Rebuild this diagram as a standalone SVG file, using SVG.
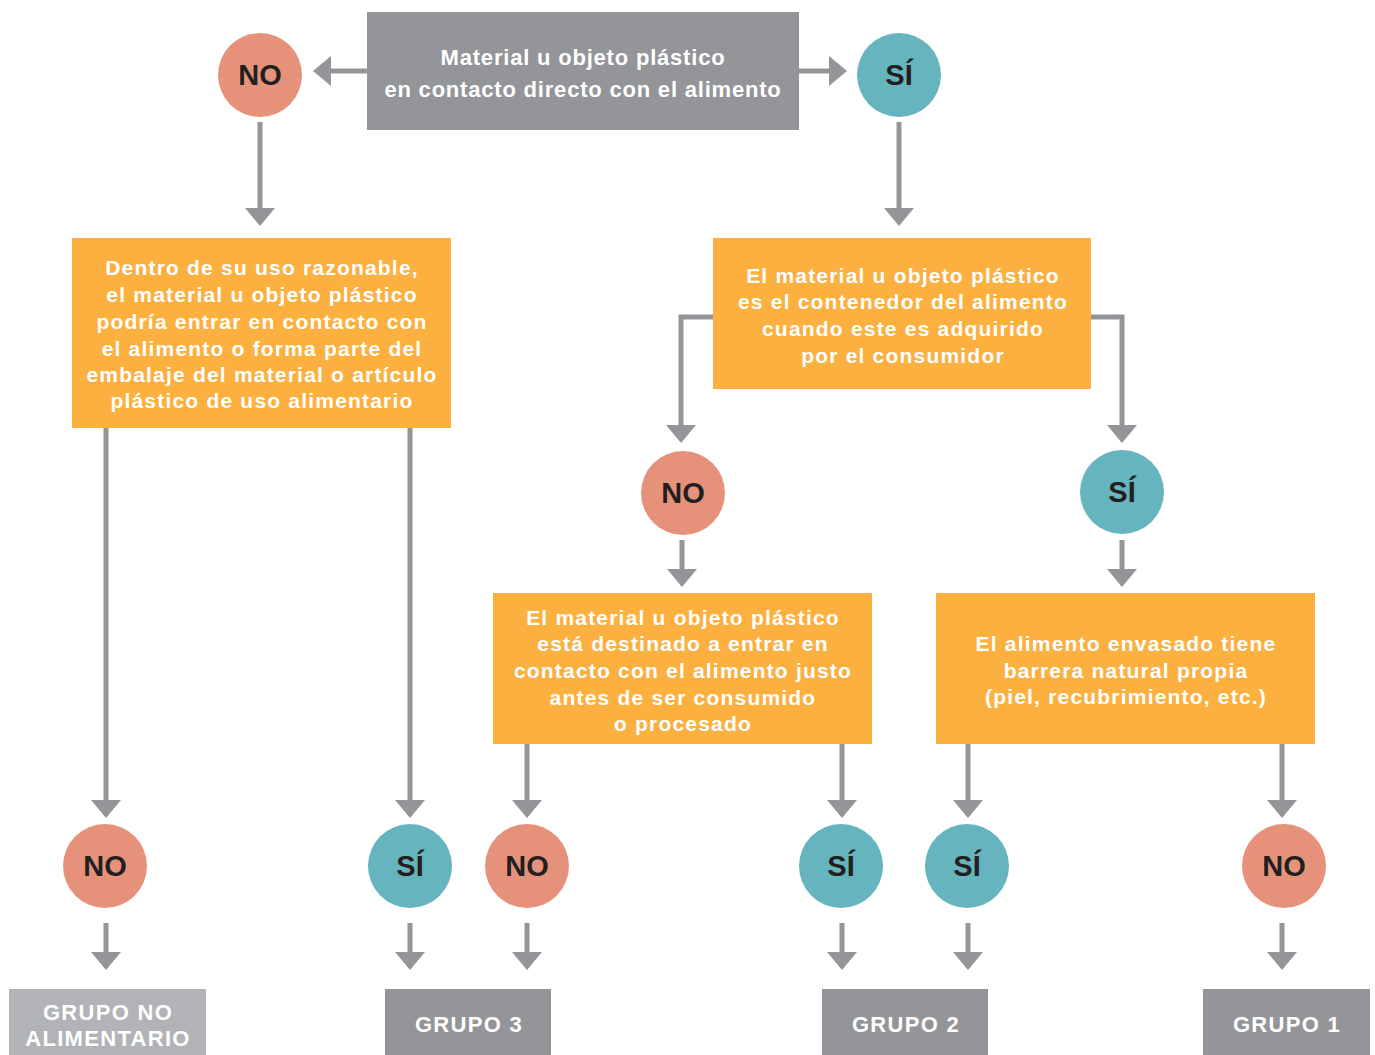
<svg xmlns="http://www.w3.org/2000/svg" width="1375" height="1055" viewBox="0 0 1375 1055">
<defs>
<marker id="ah" markerUnits="userSpaceOnUse" markerWidth="20" markerHeight="32" viewBox="0 -16 20 32" refX="1" refY="0" orient="auto">
<path d="M0,-15 L18,0 L0,15 z" fill="#939598"/>
</marker>
<style>
.c{stroke:#939598;stroke-width:5;fill:none;marker-end:url(#ah)}
.q{fill:#939598}
.ql{fill:#b1b3b6}
.o{fill:#fbb040}
.no{fill:#e6927a}
.si{fill:#66b4be}
.t{font-family:"Liberation Sans",Arial,sans-serif;font-weight:bold;fill:#ffffff;text-anchor:middle}
.tt{font-size:22px;letter-spacing:0.8px}
.to{font-size:21px;letter-spacing:1.2px}
.tc{font-family:"Liberation Sans",Arial,sans-serif;font-weight:bold;fill:#231f20;text-anchor:middle;font-size:29px}
.tg{font-size:22px;letter-spacing:1.3px}
</style>
</defs>
<rect width="1375" height="1055" fill="#ffffff"/>

<g id="connectors">
<path class="c" d="M367,71 H330"/>
<path class="c" d="M799,71 H830"/>
<path class="c" d="M260,122 V209"/>
<path class="c" d="M899,122 V209"/>
<path class="c" d="M713,317 H681 V426"/>
<path class="c" d="M1091,317 H1122 V426"/>
<path class="c" d="M682,540 V570"/>
<path class="c" d="M1122,540 V570"/>
<path class="c" d="M106,428 V801"/>
<path class="c" d="M410,428 V801"/>
<path class="c" d="M527,744 V801"/>
<path class="c" d="M842,744 V801"/>
<path class="c" d="M968,744 V801"/>
<path class="c" d="M1282,744 V801"/>
<path class="c" d="M106,923 V953"/>
<path class="c" d="M410,923 V953"/>
<path class="c" d="M527,923 V953"/>
<path class="c" d="M842,923 V953"/>
<path class="c" d="M968,923 V953"/>
<path class="c" d="M1282,923 V953"/>
</g>

<g id="start">
<rect class="q" x="367" y="12" width="432" height="118"/>
<text class="t tt" x="583" y="65">Material u objeto plástico</text>
<text class="t tt" x="583" y="97">en contacto directo con el alimento</text>
</g>

<g id="no-top"><circle class="no" cx="260" cy="75" r="42"/><text class="tc" x="260" y="85">NO</text></g>
<g id="si-top"><circle class="si" cx="899" cy="75" r="42"/><text class="tc" x="899" y="85">SÍ</text></g>

<g id="q-uso">
<rect class="o" x="72" y="238" width="379" height="190"/>
<text class="t to" x="262" y="275">Dentro de su uso razonable,</text>
<text class="t to" x="262" y="302">el material u objeto plástico</text>
<text class="t to" x="262" y="329">podría entrar en contacto con</text>
<text class="t to" x="262" y="356">el alimento o forma parte del</text>
<text class="t to" x="262" y="382">embalaje del material o artículo</text>
<text class="t to" x="262" y="408">plástico de uso alimentario</text>
</g>

<g id="q-contenedor">
<rect class="o" x="713" y="238" width="378" height="151"/>
<text class="t to" x="903" y="283">El material u objeto plástico</text>
<text class="t to" x="903" y="309">es el contenedor del alimento</text>
<text class="t to" x="903" y="336">cuando este es adquirido</text>
<text class="t to" x="903" y="363">por el consumidor</text>
</g>

<g id="no-mid"><circle class="no" cx="683" cy="493" r="42"/><text class="tc" x="683" y="503">NO</text></g>
<g id="si-mid"><circle class="si" cx="1122" cy="492" r="42"/><text class="tc" x="1122" y="502">SÍ</text></g>

<g id="q-destinado">
<rect class="o" x="493" y="593" width="379" height="151"/>
<text class="t to" x="683" y="625">El material u objeto plástico</text>
<text class="t to" x="683" y="651">está destinado a entrar en</text>
<text class="t to" x="683" y="678">contacto con el alimento justo</text>
<text class="t to" x="683" y="705">antes de ser consumido</text>
<text class="t to" x="683" y="731">o procesado</text>
</g>

<g id="q-barrera">
<rect class="o" x="936" y="593" width="379" height="151"/>
<text class="t to" x="1126" y="651">El alimento envasado tiene</text>
<text class="t to" x="1126" y="678">barrera natural propia</text>
<text class="t to" x="1126" y="704">(piel, recubrimiento, etc.)</text>
</g>

<g id="no-b1"><circle class="no" cx="105" cy="866" r="42"/><text class="tc" x="105" y="876">NO</text></g>
<g id="si-b2"><circle class="si" cx="410" cy="866" r="42"/><text class="tc" x="410" y="876">SÍ</text></g>
<g id="no-b3"><circle class="no" cx="527" cy="866" r="42"/><text class="tc" x="527" y="876">NO</text></g>
<g id="si-b4"><circle class="si" cx="841" cy="866" r="42"/><text class="tc" x="841" y="876">SÍ</text></g>
<g id="si-b5"><circle class="si" cx="967" cy="866" r="42"/><text class="tc" x="967" y="876">SÍ</text></g>
<g id="no-b6"><circle class="no" cx="1284" cy="866" r="42"/><text class="tc" x="1284" y="876">NO</text></g>

<g id="grupo-no-alimentario">
<rect class="ql" x="9" y="989" width="197" height="66"/>
<text class="t tg" x="108" y="1020">GRUPO NO</text>
<text class="t tg" x="108" y="1046">ALIMENTARIO</text>
</g>
<g id="grupo-3"><rect class="q" x="385" y="989" width="166" height="66"/><text class="t tg" x="469" y="1032">GRUPO 3</text></g>
<g id="grupo-2"><rect class="q" x="822" y="989" width="166" height="66"/><text class="t tg" x="906" y="1032">GRUPO 2</text></g>
<g id="grupo-1"><rect class="q" x="1203" y="989" width="167" height="66"/><text class="t tg" x="1287" y="1032">GRUPO 1</text></g>
</svg>
